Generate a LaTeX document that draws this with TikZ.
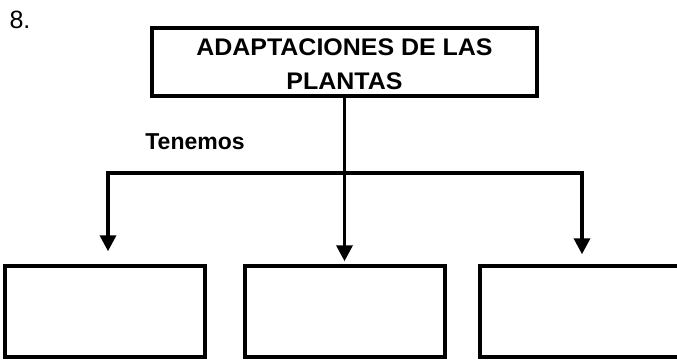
\documentclass[tikz,border=0pt]{standalone}
\usepackage{fontspec}
\setmainfont{Liberation Sans}
\usetikzlibrary{arrows.meta}
\begin{document}
\begin{tikzpicture}[x=1pt,y=-1pt,
  box/.style={draw, line width=3.5pt, inner sep=0pt},
  conn/.style={line width=3.5pt},
  arr/.style={conn, -{Triangle[width=16pt,length=16pt]}},
  lbl/.style={font=\fontsize{24}{34}\selectfont\bfseries, inner sep=0pt}]
\useasboundingbox (0,0) rectangle (677,359);
\node[inner sep=0pt, font=\fontsize{25}{28}\selectfont] (num) at (20,20) {8.};
\node[box, minimum width=385pt, minimum height=68pt] (title) at (344.5,62) {};
\node[lbl, align=center, xscale=1.04] (tt) at (344.5,64.5) {ADAPTACIONES DE LAS\\PLANTAS};
\node[lbl, font=\fontsize{23}{28}\selectfont\bfseries] (ten) at (195,142) {Tenemos};
\node[box, minimum width=200pt, minimum height=91pt] (b1) at (105,311.5) {};
\node[box, minimum width=200pt, minimum height=91pt] (b2) at (345,311.5) {};
\node[box, minimum width=200pt, minimum height=91pt] (b3) at (580,311.5) {};
\coordinate (hL) at (108,173);
\coordinate (hR) at (582,173);
\draw[conn, line cap=rect] (hL) -- (hR);
\draw[arr, shorten >=13pt] (hL) -- (hL |- b1.north);
\draw[arr, shorten >=10pt] (hR) -- (hR |- b3.north);
\draw[arr, shorten >=3pt] (title.south) -- (title.south |- b2.north);
\end{tikzpicture}
\end{document}
